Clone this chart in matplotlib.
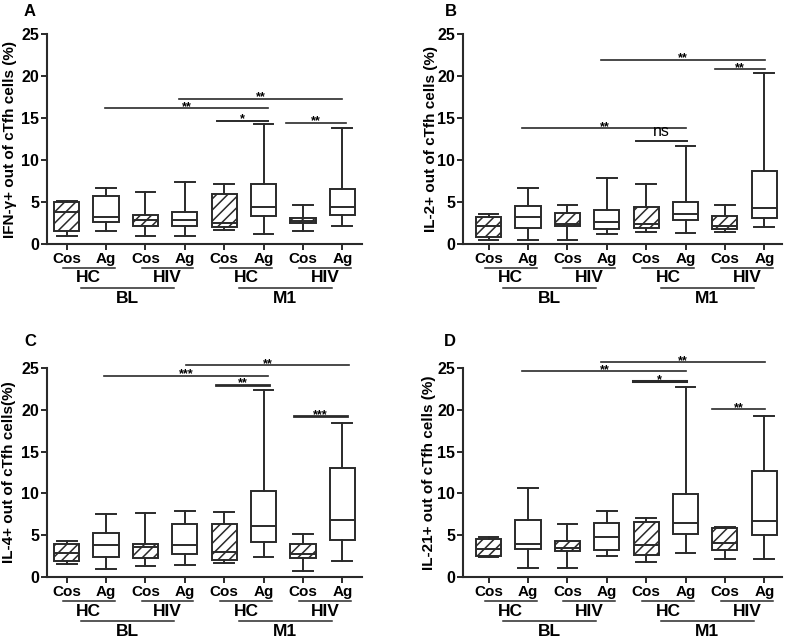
import matplotlib.pyplot as plt
from matplotlib.transforms import blended_transform_factory

plt.rcParams['font.family'] = ['Liberation Sans', 'DejaVu Sans']
plt.rcParams['hatch.color'] = '#3a3a3a'
plt.rcParams['hatch.linewidth'] = 1.1

FIG_W, FIG_H = 787, 639
INK = '#2a2a2a'

# ---- data ---------------------------------------------------------------
treatments = ["Cos", "Ag", "Cos", "Ag", "Cos", "Ag", "Cos", "Ag"]
cohorts = ["HC", "HIV", "HC", "HIV"]
timepoints = ["BL", "M1"]
positions = [1, 2, 3, 4, 5, 6, 7, 8]

ifng_min = [1.0, 1.5, 1.0, 1.0, 1.7, 1.25, 1.5, 2.1]
ifng_q1 = [1.5, 2.6, 2.2, 2.2, 2.05, 3.3, 2.5, 3.4]
ifng_med = [3.8, 3.2, 2.8, 2.9, 2.45, 4.4, 2.75, 4.45]
ifng_q3 = [5.0, 5.75, 3.5, 3.8, 6.0, 7.2, 3.15, 6.5]
ifng_max = [5.1, 6.7, 6.15, 7.4, 7.1, 14.3, 4.6, 13.85]

il2_min = [0.48, 0.5, 0.44, 1.23, 1.4, 1.35, 1.47, 2.06]
il2_q1 = [0.83, 1.9, 2.2, 1.75, 1.85, 2.9, 1.8, 3.1]
il2_med = [2.1, 3.2, 2.35, 2.6, 2.4, 3.6, 2.2, 4.3]
il2_q3 = [3.2, 4.5, 3.65, 4.1, 4.4, 5.0, 3.33, 8.65]
il2_max = [3.53, 6.7, 4.6, 7.8, 7.1, 11.65, 4.6, 20.3]

il4_min = [1.6, 1.0, 1.3, 1.43, 1.67, 2.35, 0.72, 1.9]
il4_q1 = [1.9, 2.4, 2.3, 2.7, 2.0, 4.17, 2.3, 4.4]
il4_med = [2.9, 3.8, 3.6, 3.85, 3.0, 6.1, 2.8, 6.8]
il4_q3 = [4.0, 5.3, 4.0, 6.3, 6.3, 10.3, 4.0, 13.0]
il4_max = [4.33, 7.5, 7.6, 7.95, 7.8, 22.4, 5.1, 18.4]

il21_min = [2.4, 1.07, 1.1, 2.54, 1.75, 2.9, 2.2, 2.2]
il21_q1 = [2.5, 3.3, 3.06, 3.18, 2.6, 5.1, 3.2, 5.05]
il21_med = [3.4, 4.0, 3.5, 4.8, 3.8, 6.5, 4.1, 6.7]
il21_q3 = [4.53, 6.8, 4.3, 6.4, 6.6, 9.94, 5.85, 12.7]
il21_max = [4.73, 10.7, 6.36, 7.95, 7.07, 22.7, 6.0, 19.3]

# significance brackets: (from, to, height, label)
ifng_sig = [(1.98, 6.11, 16.15, "**"), (3.85, 7.99, 17.3, "**"),
            (4.82, 6.11, 14.7, "*"), (6.57, 8.10, 14.4, "**")]
il2_sig = [(1.86, 6.02, 13.8, "**"), (4.75, 6.04, 12.25, "ns"),
           (3.85, 8.02, 21.9, "**"), (6.76, 8.02, 20.8, "**")]
il4_sig = [(1.95, 6.11, 24.1, "***"), (4.04, 8.17, 25.3, "**"),
           (4.80, 6.15, 23.0, "**"), (6.77, 8.12, 19.2, "***")]
il21_sig = [(1.86, 6.02, 24.6, "**"), (3.85, 8.02, 25.7, "**"),
            (4.67, 6.02, 23.4, "*"), (6.67, 8.02, 20.05, "**")]

panels = [
    dict(letter="A", ylabel="IFN-\u03b3+ out of cTfh cells (%)",
         stats=(ifng_min, ifng_q1, ifng_med, ifng_q3, ifng_max), sig=ifng_sig,
         box=(47, 362, 34, 244), xlim=(0.5, 8.5), letter_xy=(30, 11), ylab_x=10,
         sig_lw=[1.2, 1.2, 1.4, 1.2]),
    dict(letter="B", ylabel="IL-2+ out of cTfh cells (%)",
         stats=(il2_min, il2_q1, il2_med, il2_q3, il2_max), sig=il2_sig,
         box=(463, 782, 34, 244), xlim=(0.35, 8.45), letter_xy=(451, 11), ylab_x=431,
         sig_lw=[1.2, 1.4, 1.2, 1.2]),
    dict(letter="C", ylabel="IL-4+ out of cTfh cells(%)",
         stats=(il4_min, il4_q1, il4_med, il4_q3, il4_max), sig=il4_sig,
         box=(47, 362, 368, 577), xlim=(0.5, 8.5), letter_xy=(30, 341), ylab_x=9,
         sig_lw=[1.2, 1.2, 2.0, 2.0]),
    dict(letter="D", ylabel="IL-21+ out of cTfh cells (%)",
         stats=(il21_min, il21_q1, il21_med, il21_q3, il21_max), sig=il21_sig,
         box=(463, 782, 368, 577), xlim=(0.35, 8.45), letter_xy=(450, 341), ylab_x=429,
         sig_lw=[1.2, 1.2, 2.2, 1.2]),
]


def draw_panel(fig, p):
    left, right, top, bottom = p["box"]
    ax = fig.add_axes([left / FIG_W, 1 - bottom / FIG_H,
                       (right - left) / FIG_W, (bottom - top) / FIG_H])
    mins, q1s, meds, q3s, maxs = p["stats"]
    stats = [dict(whislo=a, q1=b, med=c, q3=d, whishi=e, fliers=[])
             for a, b, c, d, e in zip(mins, q1s, meds, q3s, maxs)]
    line = dict(color=INK, linewidth=1.4)
    parts = ax.bxp(stats, positions=positions, widths=0.64, capwidths=0.5,
                   patch_artist=True, showfliers=False,
                   boxprops=dict(facecolor="white", edgecolor=INK, linewidth=1.4),
                   medianprops=line, whiskerprops=line, capprops=line)
    for i, patch in enumerate(parts["boxes"]):
        if treatments[i] == "Cos":
            patch.set_hatch("///")

    ax.set_xlim(*p["xlim"])
    ax.set_ylim(0, 25)
    ax.set_yticks([0, 5, 10, 15, 20, 25])
    ax.set_xticks(positions)
    ax.set_xticklabels(treatments, fontsize=11, fontweight="bold")
    for lab in ax.get_yticklabels():
        lab.set_fontweight("bold")
        lab.set_fontsize(11.5)
    for side in ("top", "right"):
        ax.spines[side].set_visible(False)
    for side in ("left", "bottom"):
        ax.spines[side].set_linewidth(1.5)
        ax.spines[side].set_color(INK)
    ax.tick_params(axis="both", length=4, width=1.4, color=INK, pad=1.5)

    # group annotations under the axis
    px = 1.0 / (bottom - top)
    trans = blended_transform_factory(ax.transData, ax.transAxes)
    for k, name in enumerate(cohorts):
        c, a = positions[2 * k], positions[2 * k + 1]
        x0, x1 = c - 0.1, a + 0.22
        ax.plot([x0, x1], [-24 * px] * 2, color=INK, lw=1.1, transform=trans,
                clip_on=False)
        ax.text((x0 + x1) / 2, -34 * px, name, transform=trans, ha="center",
                va="center", fontsize=12.5, fontweight="bold")
    for k, name in enumerate(timepoints):
        mid = (positions[4 * k] + positions[4 * k + 3]) / 2 + 0.05
        ax.plot([mid - 1.18, mid + 1.18], [-44 * px] * 2, color=INK, lw=1.1,
                transform=trans, clip_on=False)
        ax.text(mid, -54 * px, name, transform=trans, ha="center",
                va="center", fontsize=12.5, fontweight="bold")

    # significance bars
    for (x0, x1, y, label), lw in zip(p["sig"], p["sig_lw"]):
        ax.plot([x0, x1], [y, y], color=INK, lw=lw, clip_on=False)
        if label == "ns":
            ax.text((x0 + x1) / 2, y + 0.3, label, ha="center", va="bottom",
                    fontsize=11.5)
        else:
            ax.text((x0 + x1) / 2, y - 0.55, label, ha="center", va="bottom",
                    fontsize=9, fontweight="bold")

    cy = (top + bottom) / 2
    fig.text(p["ylab_x"] / FIG_W, 1 - cy / FIG_H, p["ylabel"], rotation=90,
             ha="center", va="center", fontsize=11, fontweight="bold")
    lx, ly = p["letter_xy"]
    fig.text(lx / FIG_W, 1 - ly / FIG_H, p["letter"], ha="center", va="center",
             fontsize=12, fontweight="bold")
    return ax


fig = plt.figure(figsize=(FIG_W / 100, FIG_H / 100), dpi=100)
for panel in panels:
    draw_panel(fig, panel)

fig.savefig("out.png", dpi=100)
